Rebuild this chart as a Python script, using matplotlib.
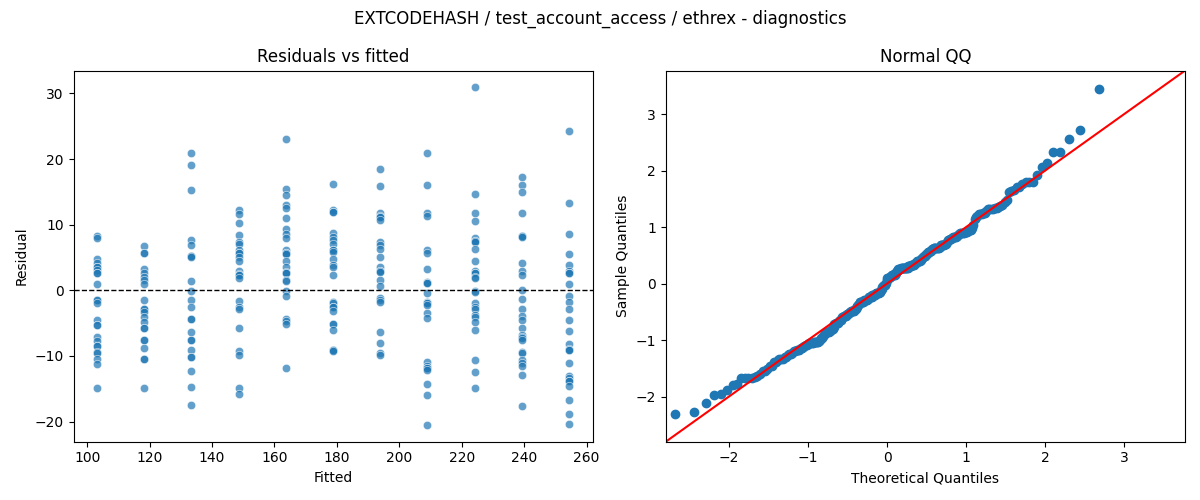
import matplotlib
matplotlib.use("Agg")
import matplotlib.pyplot as plt
import numpy as np
import seaborn as sns
from statistics import NormalDist


####### DATA #######

fitted_levels = [103.2, 118.3, 133.4, 148.6, 163.7, 178.8, 193.9, 209.0, 224.2, 239.3, 254.4]

res_g1 = [8.3, 8.0, 4.7, 4.2, 3.6, 3.6, 3.1, 2.6, 2.6, 1.0, -1.5, -1.5, -2.0, -4.5, -5.3, -5.3,
          -7.1, -7.7, -8.5, -8.5, -9.4, -9.5, -10.4, -11.3, -14.9]
res_g2 = [6.7, 5.7, 5.7, 3.3, 2.6, 2.0, 1.5, 1.0, -1.5, -2.9, -2.9, -3.3, -4.0, -4.8, -5.7, -5.7,
          -7.6, -7.6, -8.8, -10.5, -10.5, -14.9]
res_g3 = [20.9, 19.1, 15.3, 7.7, 6.9, 5.2, 5.2, 5.0, 1.4, -0.1, -1.5, -2.6, -4.3, -4.3, -6.3,
          -7.6, -7.6, -9.1, -10.1, -10.1, -12.3, -14.7, -17.4]
res_g4 = [12.2, 11.6, 10.3, 8.4, 7.4, 7.1, 6.1, 5.7, 5.7, 5.1, 4.5, 3.0, 2.5, 2.3, 2.3, 1.8,
          -1.7, -2.6, -2.8, -5.8, -9.3, -9.9, -14.9, -15.8]
res_g5 = [23.0, 15.4, 14.5, 13.0, 12.5, 11.0, 9.4, 8.6, 8.0, 6.1, 5.7, 5.7, 5.5, 4.5, 3.5, 2.8,
          2.6, 2.6, 1.5, 1.4, -0.1, -0.9, -4.3, -4.7, -5.1, -11.9]
res_g6 = [16.2, 12.3, 12.0, 12.0, 8.8, 8.1, 7.6, 7.1, 6.1, 6.1, 5.8, 4.8, 3.8, 3.6, 2.3, -1.8,
          -2.0, -2.5, -2.5, -3.1, -5.1, -5.1, -6.1, -9.1, -9.1, -9.3]
res_g7 = [18.5, 15.9, 11.8, 11.3, 11.1, 11.1, 10.7, 7.4, 6.9, 6.3, 5.1, 3.6, 3.0, 3.0, 2.8, 1.5,
          0.6, -1.2, -1.5, -1.8, -6.4, -8.1, -9.6, -9.8]
res_g8 = [20.9, 16.1, 11.8, 11.3, 6.2, 5.7, 3.3, 1.2, 1.1, 1.1, -0.4, -1.8, -2.0, -2.0, -2.3,
          -3.5, -4.2, -10.9, -11.5, -11.8, -11.8, -12.1, -14.2, -16.0, -20.5]
res_g9 = [30.9, 14.7, 11.8, 10.6, 7.9, 7.5, 7.5, 7.3, 6.3, 4.5, 2.9, 2.6, 2.6, 2.1, 1.8, -0.1,
          -0.3, -2.0, -2.5, -2.8, -3.7, -4.1, -4.9, -6.1, -10.6, -12.4, -14.9]
res_g10 = [17.2, 16.1, 14.9, 11.8, 8.2, 8.2, 8.1, 4.1, 3.0, 2.3, 0.1, -1.3, -2.9, -3.9, -4.6,
           -5.7, -6.8, -7.1, -7.3, -7.5, -9.4, -9.6, -10.6, -11.1, -11.6, -12.9, -17.6]
res_g11 = [24.3, 13.3, 8.5, 5.6, 3.9, 2.9, 2.6, 2.6, 1.0, -0.8, -1.8, -2.9, -4.5, -6.2, -8.2,
           -9.0, -9.1, -9.1, -11.1, -13.0, -13.4, -13.8, -13.8, -14.6, -16.7, -18.8, -20.3]

suptitle = "EXTCODEHASH / test_account_access / ethrex - diagnostics"


####### BUILD SERIES #######

groups = [res_g1, res_g2, res_g3, res_g4, res_g5, res_g6, res_g7, res_g8, res_g9, res_g10, res_g11]
fitted = np.concatenate([[f] * len(g) for f, g in zip(fitted_levels, groups)])
resid = np.concatenate([np.array(g, dtype=float) for g in groups])

# normal QQ: standardised sample vs theoretical quantiles, positions i/(n+1)
n = len(resid)
sample_q = np.sort((resid - resid.mean()) / resid.std())
nd = NormalDist()
theo_q = np.array([nd.inv_cdf(i / (n + 1)) for i in range(1, n + 1)])


####### PLOT #######

fig, (ax1, ax2) = plt.subplots(1, 2, figsize=(12, 5))

sns.scatterplot(x=fitted, y=resid, alpha=0.7, ax=ax1)
ax1.axhline(0, color="black", linestyle="--", linewidth=1)
ax1.set_title("Residuals vs fitted")
ax1.set_xlabel("Fitted")
ax1.set_ylabel("Residual")

ax2.plot(theo_q, sample_q, marker="o", linestyle="none", color="C0")
lims = [-2.8, 3.77]
ax2.plot(lims, lims, "r-")
ax2.set_xlim(lims)
ax2.set_ylim(lims)
ax2.set_title("Normal QQ")
ax2.set_xlabel("Theoretical Quantiles")
ax2.set_ylabel("Sample Quantiles")

fig.suptitle(suptitle)
plt.tight_layout()
plt.savefig("out.png", dpi=100)
